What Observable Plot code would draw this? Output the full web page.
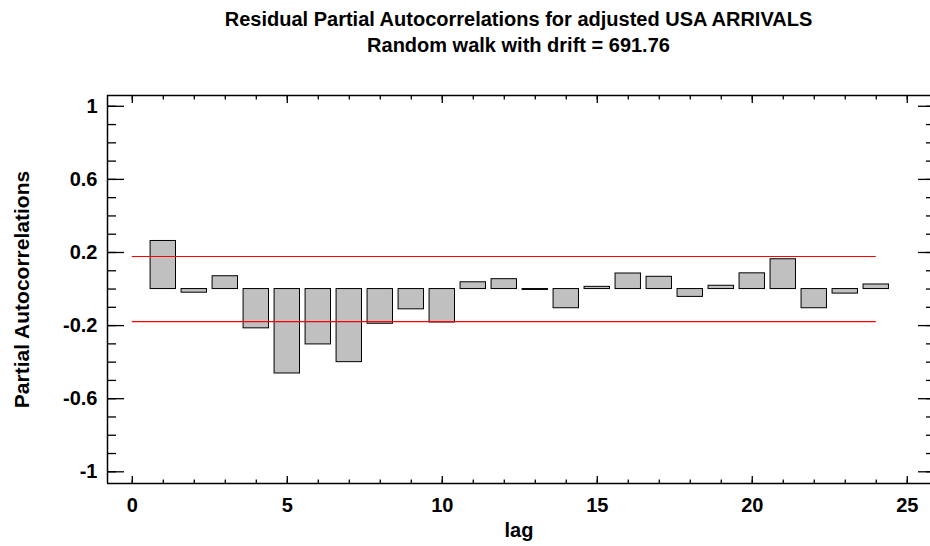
<!DOCTYPE html>
<html>
<head>
<meta charset="utf-8">
<script src="https://cdn.jsdelivr.net/npm/d3@7"></script>
<script src="https://cdn.jsdelivr.net/npm/@observablehq/plot@0.6"></script>
<style>
  html, body { margin: 0; padding: 0; background: #fff; }
  body { width: 930px; height: 546px; overflow: hidden; font-family: "Liberation Sans", Arial, Helvetica, sans-serif; }
  #head { position: relative; height: 60px; width: 930px; }
  .ttl { position: absolute; left: 107px; width: 823px; text-align: center; font-weight: bold; font-size: 20px; line-height: 20px; color: #000; white-space: nowrap; }
  #t1 { top: 9px; }
  #t2 { top: 35px; }
</style>
</head>
<body>
<div id="head">
  <div class="ttl" id="t1">Residual Partial Autocorrelations for adjusted USA ARRIVALS</div>
  <div class="ttl" id="t2">Random walk with drift = 691.76</div>
</div>
<div id="chart"></div>
<script>
// ---- data ----
const lags = [1,2,3,4,5,6,7,8,9,10,11,12,13,14,15,16,17,18,19,20,21,22,23,24];
const pacf = [0.263,-0.020,0.070,-0.215,-0.462,-0.303,-0.400,-0.190,-0.111,-0.183,0.037,0.054,-0.005,-0.105,0.012,0.085,0.067,-0.043,0.018,0.086,0.163,-0.105,-0.025,0.025];
const limits = [0.178, -0.178];
const xTicks = [0,5,10,15,20,25];
const yTicks = [1,0.6,0.2,-0.2,-0.6,-1];
const yTickLabels = ["1","0.6","0.2","-0.2","-0.6","-1"];
const xLabel = "lag";
const yLabel = "Partial Autocorrelations";

const data = lags.map((l, i) => ({lag: l, value: pacf[i]}));
const xDomain = [-0.8, 25.75];
const yDomain = [-1.064, 1.059];
const xMinor = d3.range(0, 26, 1);
const yMinor = d3.ticks(-1, 1, 20);
const half = 0.41;
const font = "Liberation Sans, Arial, Helvetica, sans-serif";

const chart = Plot.plot({
  width: 930,
  height: 486,
  marginTop: 35,
  marginBottom: 63,
  marginLeft: 107,
  marginRight: 0,
  style: {fontFamily: font, fontWeight: "bold", fontSize: "20px", color: "#000", background: "#fff", overflow: "visible"},
  x: {domain: xDomain, axis: null},
  y: {domain: yDomain, axis: null},
  marks: [
    // frame (left, top, bottom)
    Plot.ruleX([xDomain[0]], {stroke: "#000", strokeWidth: 1.5}),
    Plot.ruleY([yDomain[0], yDomain[1]], {stroke: "#000", strokeWidth: 1.5}),
    // ticks inward
    Plot.axisY({anchor: "left", ticks: yTicks, tickSize: -17, text: null, label: null, strokeWidth: 1.3}),
    Plot.axisY({anchor: "left", ticks: yMinor, tickSize: -9, text: null, label: null, strokeWidth: 1.3}),
    Plot.axisY({anchor: "right", ticks: yTicks, tickSize: -13, text: null, label: null, strokeWidth: 1.3}),
    Plot.axisY({anchor: "right", ticks: yMinor, tickSize: -5, text: null, label: null, strokeWidth: 1.3}),
    Plot.axisX({anchor: "bottom", ticks: xTicks, tickSize: -7, text: null, label: null, strokeWidth: 1.3}),
    Plot.axisX({anchor: "bottom", ticks: xMinor, tickSize: -3.5, text: null, label: null, strokeWidth: 1.3}),
    Plot.axisX({anchor: "top", ticks: xTicks, tickSize: -7, text: null, label: null, strokeWidth: 1.3}),
    Plot.axisX({anchor: "top", ticks: xMinor, tickSize: -3.5, text: null, label: null, strokeWidth: 1.3}),
    // tick labels
    Plot.axisY({anchor: "left", ticks: yTicks, tickSize: 0, tickPadding: 10, label: null,
      tickFormat: d => yTickLabels[yTicks.indexOf(d)], fontSize: 20, fontWeight: "bold"}),
    Plot.axisX({anchor: "bottom", ticks: xTicks, tickSize: 0, tickPadding: 14, label: null,
      tickFormat: d => String(d), fontSize: 20, fontWeight: "bold"}),
    // bars
    Plot.rectY(data, {x1: d => d.lag - half, x2: d => d.lag + half, y: "value", fill: "#c0c0c0", stroke: "#000", strokeWidth: 1}),
    // limits
    Plot.ruleY(limits, {x1: 0, x2: d3.max(lags), stroke: "#ff0000", strokeWidth: 1.2}),
    // axis titles
    Plot.text([xLabel], {text: d => d, frameAnchor: "bottom", dy: 47, lineAnchor: "middle", textAnchor: "middle", fontSize: 20, fontWeight: "bold", fill: "#000"}),
    Plot.text([yLabel], {text: d => d, frameAnchor: "left", dx: -85, rotate: -90, lineAnchor: "middle", textAnchor: "middle", fontSize: 21, fontWeight: "bold", fill: "#000"})
  ]
});
document.getElementById("chart").appendChild(chart);
</script>
</body>
</html>
